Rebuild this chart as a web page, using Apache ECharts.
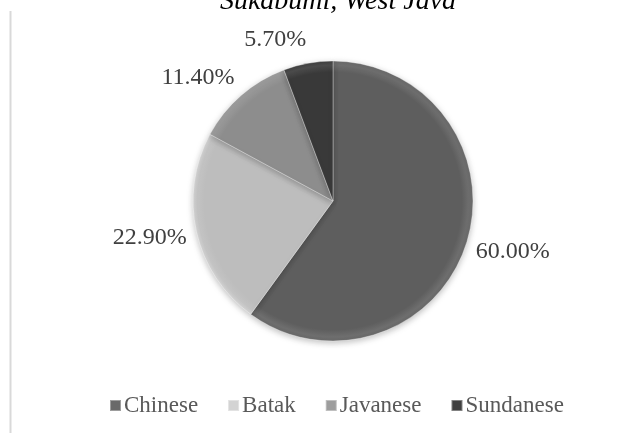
<!DOCTYPE html>
<html>
<head>
<meta charset="utf-8">
<script src="https://cdn.jsdelivr.net/npm/echarts@6/dist/echarts.min.js"></script>
<style>
  html, body { margin: 0; padding: 0; background: #fff; }
  #chart { width: 641px; height: 436px; }
</style>
</head>
<body>
<div id="chart"></div>
<script>
// Ethnic composition, Sukabumi, West Java
const titleText = 'Sukabumi, West Java';
const groups = ['Chinese', 'Batak', 'Javanese', 'Sundanese'];
const shares = [60.0, 22.9, 11.4, 5.7];
const sliceColors = ['#5e5e5e', '#bdbdbd', '#8d8d8d', '#393939'];

const CX = 333, CY = 201, R = 140;
const total = shares.reduce((a, b) => a + b, 0);

// beveled look: flat face with a light rim and a dark outer edge
function bevel(c) {
  return {
    type: 'radial', x: CX, y: CY, r: R, global: true,
    colorStops: [
      { offset: 0, color: c },
      { offset: 0.92, color: c },
      { offset: 0.97, color: echarts.color.lift(c, 0.1) },
      { offset: 1, color: echarts.color.lift(c, -0.12) }
    ]
  };
}

// mid-angle (radians, clockwise from 12 o'clock) of each slice
const midAngles = [];
shares.reduce((acc, v) => { midAngles.push((acc + v / 2) / total * 2 * Math.PI); return acc + v; }, 0);

const chart = echarts.init(document.getElementById('chart'), null, { renderer: 'canvas' });
chart.setOption({
  backgroundColor: '#ffffff',
  animation: false,
  color: sliceColors,
  title: {
    text: titleText,
    left: CX, textAlign: 'center', top: -17,
    textStyle: { fontFamily: 'Liberation Serif', fontStyle: 'italic', fontWeight: 'normal', fontSize: 28, color: '#000' }
  },
  legend: {
    bottom: 14, left: 104,
    itemWidth: 11, itemHeight: 11, itemGap: 29,
    icon: 'rect',
    textStyle: { fontFamily: 'Liberation Serif', fontSize: 23, color: '#595959', padding: [0, 0, 0, -2] },
    data: groups
  },
  graphic: [{
    type: 'line', shape: { x1: 10.5, y1: 11, x2: 10.5, y2: 433 },
    style: { stroke: '#d9d9d9', lineWidth: 2 }
  }],
  series: [{
    type: 'pie',
    center: [CX, CY],
    radius: R,
    startAngle: 90,
    clockwise: true,
    data: groups.map((g, i) => ({
      name: g, value: shares[i],
      itemStyle: { color: bevel(sliceColors[i]) }
    })),
    itemStyle: { borderColor: 'rgba(255,255,255,0.35)', borderWidth: 1,
      shadowBlur: 6, shadowColor: 'rgba(0,0,0,0.25)', shadowOffsetY: 2 },
    label: {
      show: true, position: 'outside',
      formatter: p => shares[p.dataIndex].toFixed(2) + '%',
      fontFamily: 'Liberation Serif', fontSize: 24, color: '#404040'
    },
    labelLine: { show: false, length: 4, length2: 0 },
    // outside-end placement: the box sits beyond the rim, pushed to the side of the slice
    labelLayout: function (p) {
      const a = midAngles[p.dataIndex];
      const ux = Math.sin(a), uy = -Math.cos(a);
      const w = p.labelRect.width, h = p.labelRect.height;
      const px = CX + ux * (R + 10), py = CY + uy * (R + 12);
      return {
        x: px + Math.sign(ux) * w / 2,
        y: py + uy * h / 2,
        align: 'center', verticalAlign: 'middle'
      };
    },
    emphasis: { disabled: true }
  }]
});
</script>
</body>
</html>
